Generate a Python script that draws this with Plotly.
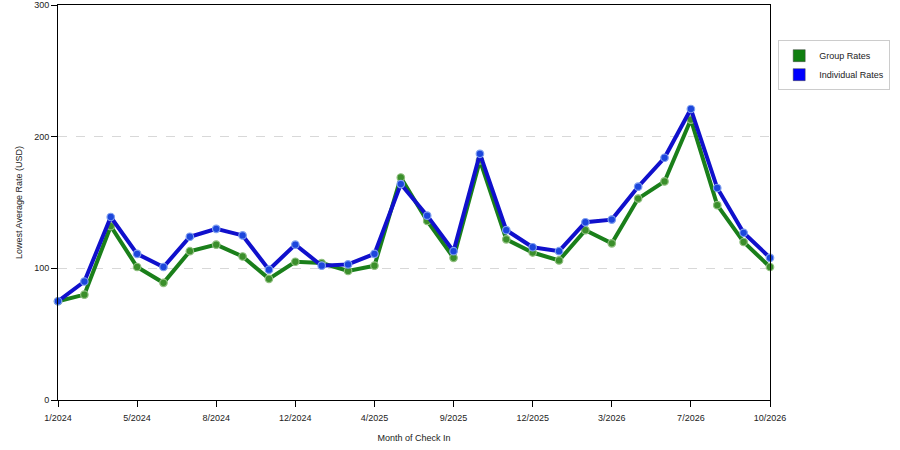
#!/usr/bin/env python
# coding: utf-8

"""Lowest average rate per month of check in, group vs individual."""

import plotly.graph_objects as go

# months shown on the category axis (some months have no data)
MONTHS = [
    "1/2024", "2/2024", "3/2024", "5/2024", "6/2024", "7/2024", "8/2024",
    "9/2024", "10/2024", "12/2024", "1/2025", "2/2025", "4/2025", "5/2025",
    "6/2025", "9/2025", "10/2025", "11/2025", "12/2025", "1/2026", "2/2026",
    "3/2026", "4/2026", "5/2026", "7/2026", "8/2026", "9/2026", "10/2026",
]
TICK_MONTHS = ["1/2024", "5/2024", "8/2024", "12/2024", "4/2025", "9/2025",
               "12/2025", "3/2026", "7/2026", "10/2026"]

GROUP_RATES = [75, 80, 132, 101, 89, 113, 118, 109, 92, 105, 104, 98, 102, 169,
               136, 108, 182, 122, 112, 106, 129, 119, 153, 166, 213, 148, 120, 101]
INDIVIDUAL_RATES = [75, 90, 139, 111, 101, 124, 130, 125, 99, 118, 102, 103, 111, 164,
                    140, 113, 187, 129, 116, 113, 135, 137, 162, 184, 221, 161, 127, 108]

Y_TICKS = [0, 100, 200, 300]

FONT = "Liberation Sans"
GREEN = "#1a7f1a"
BLUE = "#1010cc"


def main():
    fig = go.Figure()

    # lines (green below blue)
    for name, values, line_col, mk_col, mk_edge in [
        ("Group Rates", GROUP_RATES, GREEN, "#3b8f2b", "#8fbf7f"),
        ("Individual Rates", INDIVIDUAL_RATES, BLUE, "#1c46dc", "#7f9fef"),
    ]:
        fig.add_trace(
            go.Scatter(
                x=MONTHS,
                y=values,
                mode="lines+markers",
                name=name,
                showlegend=False,
                line=dict(color=line_col, width=4),
                marker=dict(size=7.5, color=mk_col, line=dict(color=mk_edge, width=1.2)),
                cliponaxis=False,
            )
        )

    # square legend swatches
    for name, col in [("Group Rates", "#107f10"), ("Individual Rates", "#0000ff")]:
        fig.add_trace(
            go.Scatter(
                x=[None],
                y=[None],
                mode="markers",
                name=name,
                marker=dict(symbol="square", size=12, color=col,
                            line=dict(color="#444444", width=0.5)),
            )
        )

    fig.update_layout(
        width=900,
        height=450,
        margin=dict(l=58, r=130, t=5, b=50, autoexpand=False),
        paper_bgcolor="white",
        plot_bgcolor="white",
        font=dict(family=FONT, size=9, color="#222222"),
        legend=dict(
            x=1.0115,
            y=0.911,
            xanchor="left",
            yanchor="top",
            bordercolor="#cccccc",
            borderwidth=1,
            bgcolor="white",
            font=dict(family=FONT, size=9, color="#222222"),
            itemwidth=30,
            tracegroupgap=2,
        ),
    )

    fig.update_xaxes(
        type="category",
        categoryorder="array",
        categoryarray=MONTHS,
        range=[0, len(MONTHS) - 1],
        tickvals=TICK_MONTHS,
        ticktext=TICK_MONTHS,
        ticks="outside",
        ticklen=6,
        tickcolor="black",
        ticklabelstandoff=3,
        showline=True,
        linecolor="black",
        linewidth=1,
        mirror=True,
        showgrid=False,
        zeroline=False,
        automargin=False,
        title=dict(text="Month of Check In", font=dict(size=9), standoff=12),
    )
    fig.update_yaxes(
        range=[0, 300],
        tickvals=Y_TICKS,
        ticks="outside",
        ticklen=6,
        tickcolor="black",
        showline=True,
        linecolor="black",
        linewidth=1,
        mirror=True,
        showgrid=True,
        gridcolor="#d8d8d8",
        griddash="dash",
        zeroline=False,
        automargin=False,
        title=dict(text="Lowest Average Rate (USD)", font=dict(size=9), standoff=10),
    )

    # page body margin would shift the chart; drop it
    fig.write_html(
        "out.html",
        config={"displayModeBar": False},
        post_script="document.body.style.margin='0';",
    )


if __name__ == "__main__":
    main()
